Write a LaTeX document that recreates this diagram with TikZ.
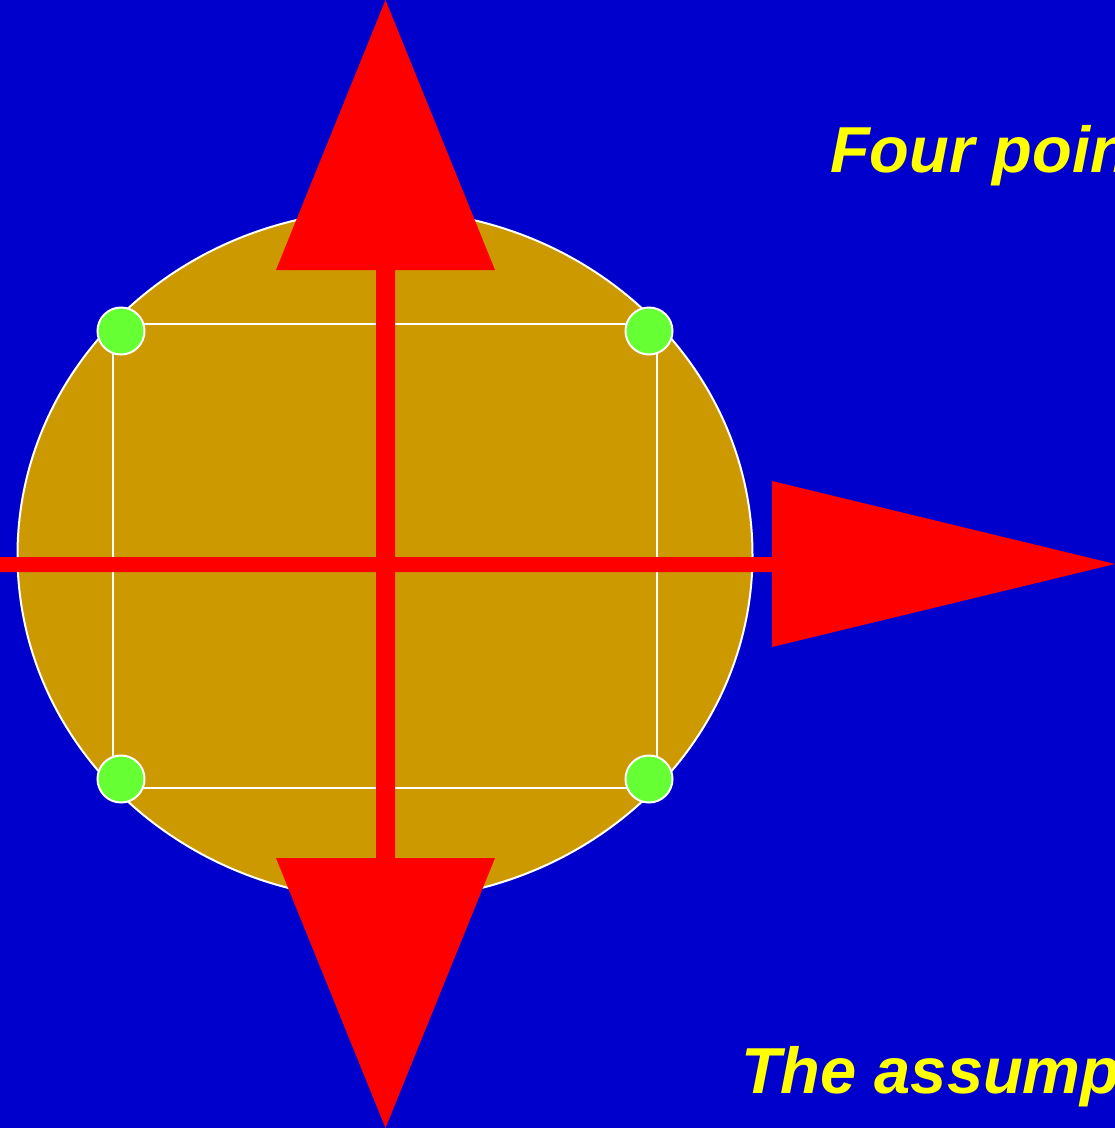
\documentclass[tikz,border=0pt]{standalone}
\usepackage{fontspec}
\setmainfont{Liberation Sans}
\definecolor{bgblue}{HTML}{0000CC}
\definecolor{gold}{HTML}{CC9900}
\definecolor{ptgreen}{HTML}{66FF33}
\definecolor{arrred}{HTML}{FF0000}
\definecolor{txtyellow}{HTML}{FFFF00}
\begin{document}
\begin{tikzpicture}[x=1pt,y=-1pt,
  outline/.style={draw=white,line width=2pt},
  dot/.style={circle,fill=ptgreen,draw=white,line width=2pt,minimum size=47pt,inner sep=0pt},
  arrowshape/.style={fill=arrred},
  caption/.style={text=txtyellow,font=\fontsize{65}{78}\selectfont\bfseries\itshape,anchor=base west,inner sep=0pt}]
\useasboundingbox (0,0) rectangle (1115,1128);
\fill[bgblue] (0,0) rectangle (1115,1128);
\begin{scope}
\clip (0,0) rectangle (1115,1128);
% disc
\draw[outline,fill=gold] (385,555) ellipse [x radius=367.5pt, y radius=345pt];
% square of the four points
\draw[outline,line width=1.6pt] (113,324) rectangle (657,788);
\node[dot] (p1) at (121,331) {};
\node[dot] (p2) at (649,331) {};
\node[dot] (p3) at (121,779) {};
\node[dot] (p4) at (649,779) {};
% horizontal arrow
\fill[arrowshape] (0,557) -- (772,557) -- (772,481) -- (1115,564) -- (772,647) -- (772,572) -- (0,572) -- cycle;
% vertical double arrow
\fill[arrowshape] (385.5,0) -- (495,270) -- (395,270) -- (395,858) -- (495,858) -- (385.5,1128)
  -- (276,858) -- (376,858) -- (376,270) -- (276,270) -- cycle;
% texts
\node[caption] (t1) at (830,172) {Four poin};
\node[caption] (t2) at (741,1093) {The assump};
\end{scope}
\end{tikzpicture}
\end{document}
